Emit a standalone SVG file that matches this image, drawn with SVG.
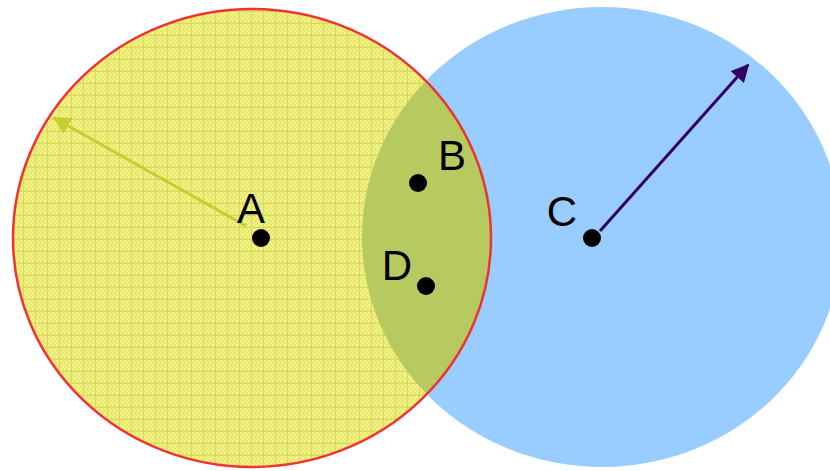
<svg xmlns="http://www.w3.org/2000/svg" width="830" height="471" viewBox="0 0 830 471">
  <style>
    .lbl { font-family: "Liberation Sans", Arial, sans-serif; font-size: 42px; fill: #000; }
    .dot { fill: #000; }
  </style>
  <defs>
    <pattern id="grid" x="0" y="0" width="12" height="12" patternUnits="userSpaceOnUse">
      <rect width="12" height="12" fill="#e8e86a"/>
      <rect x="0" y="0" width="2" height="2" fill="#f2f28c"/>
      <rect x="4" y="0" width="2" height="2" fill="#f2f28c"/>
      <rect x="8" y="0" width="2" height="2" fill="#f2f28c"/>
      <rect x="2" y="2" width="2" height="2" fill="#f2f28c"/>
      <rect x="6" y="2" width="2" height="2" fill="#f2f28c"/>
      <rect x="10" y="2" width="2" height="2" fill="#f2f28c"/>
      <rect x="0" y="4" width="2" height="2" fill="#f2f28c"/>
      <rect x="4" y="4" width="2" height="2" fill="#f2f28c"/>
      <rect x="8" y="4" width="2" height="2" fill="#f2f28c"/>
      <rect x="2" y="6" width="2" height="2" fill="#f2f28c"/>
      <rect x="6" y="6" width="2" height="2" fill="#f2f28c"/>
      <rect x="10" y="6" width="2" height="2" fill="#f2f28c"/>
      <rect x="0" y="8" width="2" height="2" fill="#f2f28c"/>
      <rect x="4" y="8" width="2" height="2" fill="#f2f28c"/>
      <rect x="8" y="8" width="2" height="2" fill="#f2f28c"/>
      <rect x="0" y="11" width="12" height="1" fill="#d8d862"/>
      <rect x="11" y="0" width="1" height="12" fill="#d8d862"/>
    </pattern>
    <clipPath id="yclip">
      <ellipse cx="252" cy="238" rx="239" ry="229"/>
    </clipPath>
    <marker id="ahY" viewBox="0 0 10 10" refX="9" refY="5" markerWidth="6" markerHeight="6" orient="auto" markerUnits="strokeWidth">
      <path d="M0,0 L10,5 L0,10 z" fill="#c8cc30"/>
    </marker>
    <marker id="ahP" viewBox="0 0 10 10" refX="9" refY="5" markerWidth="6" markerHeight="6" orient="auto" markerUnits="strokeWidth">
      <path d="M0,0 L10,5 L0,10 z" fill="#330066"/>
    </marker>
  </defs>

  <g id="circleC">
    <ellipse cx="602" cy="237" rx="240" ry="230" fill="#99ccff"/>
  </g>
  <g id="circleA">
    <ellipse cx="252" cy="238" rx="239" ry="229" fill="url(#grid)"/>
    <ellipse cx="602" cy="237" rx="240" ry="230" fill="#b6ca60" clip-path="url(#yclip)"/>
    <ellipse cx="252" cy="238" rx="239" ry="229" fill="none" stroke="#ee3333" stroke-width="2.5"/>
  </g>

  <g id="connectors">
    <line x1="246" y1="226" x2="54" y2="118" stroke="#c8cc30" stroke-width="3" marker-end="url(#ahY)"/>
    <line x1="600" y1="231" x2="748" y2="65" stroke="#330066" stroke-width="3" marker-end="url(#ahP)"/>
  </g>

  <g id="nodeA">
    <circle class="dot" cx="261" cy="238" r="9"/>
    <text class="lbl" x="251" y="223" text-anchor="middle">A</text>
  </g>
  <g id="nodeB">
    <circle class="dot" cx="418" cy="183" r="9"/>
    <text class="lbl" x="452" y="170" text-anchor="middle">B</text>
  </g>
  <g id="nodeD">
    <circle class="dot" cx="426" cy="286" r="9"/>
    <text class="lbl" x="397" y="280" text-anchor="middle">D</text>
  </g>
  <g id="nodeC">
    <circle class="dot" cx="592" cy="238" r="9"/>
    <text class="lbl" x="562" y="226" text-anchor="middle">C</text>
  </g>
</svg>
